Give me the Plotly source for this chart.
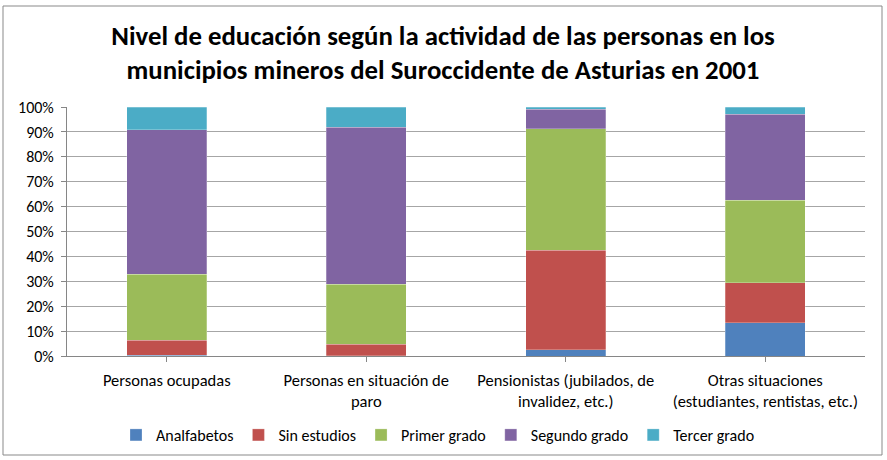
import plotly.graph_objects as go

categories = [
    "Personas ocupadas",
    "Personas en situación de<br>paro",
    "Pensionistas (jubilados, de<br>invalidez, etc.)",
    "Otras situaciones<br>(estudiantes, rentistas, etc.)",
]
series_names = ["Analfabetos", "Sin estudios", "Primer grado", "Segundo grado", "Tercer grado"]
analfabetos = [0.3, 0.2, 2.5, 13.4]
sin_estudios = [6.1, 4.5, 39.9, 16.1]
primer_grado = [26.4, 24.1, 48.8, 33.1]
segundo_grado = [58.1, 63.0, 7.9, 34.5]
tercer_grado = [9.1, 8.2, 0.9, 2.9]
colors = ["#4F81BD", "#C0504D", "#9BBB59", "#8064A2", "#4BACC6"]
values = [analfabetos, sin_estudios, primer_grado, segundo_grado, tercer_grado]

FONT = "Carlito, 'Liberation Sans Narrow', 'Open Sans', sans-serif"

fig = go.Figure()
for name, vals, col in zip(series_names, values, colors):
    fig.add_trace(go.Bar(
        x=categories, y=vals, name=name,
        marker=dict(color=col, line=dict(color="rgba(255,255,255,0.5)", width=0.5)),
    ))

W, H = 887, 460
L, R, T, B = 67, 887 - 865, 107, 460 - 356
pw = W - L - R
ph = H - T - B

def px_x(x):
    return (x - L) / pw

def px_y(y):
    return (356 - y) / ph

fig.update_layout(
    width=W, height=H,
    barmode="stack", barnorm="percent", bargap=0.6,
    margin=dict(l=L, r=R, t=T, b=B, autoexpand=False),
    paper_bgcolor="white", plot_bgcolor="white",
    font=dict(family=FONT, size=16, color="#000000"),
    title=dict(
        text="<b>Nivel de educación según la actividad de las personas en los<br>municipios mineros del Suroccidente de Asturias en 2001</b>",
        x=443 / W, xref="container", xanchor="center",
        y=1 - 44.5 / H, yref="container", yanchor="middle",
        font=dict(family=FONT, size=26.8, color="#000000"),
    ),
    legend=dict(
        orientation="h", x=px_x(438), xref="paper", xanchor="center",
        y=px_y(435), yref="paper", yanchor="middle",
        font=dict(family=FONT, size=16),
        traceorder="normal",
    ),
    showlegend=True,
    xaxis=dict(
        showline=True, linecolor="#868686", linewidth=1,
        ticks="outside", ticklen=5, tickcolor="#868686",
        showgrid=False, tickfont=dict(family=FONT, size=16.5),
        tickangle=0, automargin=False, ticklabelstandoff=4,
    ),
    yaxis=dict(
        range=[0, 100], dtick=10, ticksuffix="%",
        showline=True, linecolor="#868686", linewidth=1,
        ticks="outside", ticklen=5, tickcolor="#868686",
        showgrid=True, gridcolor="#A6A6A6", gridwidth=1,
        tickfont=dict(family=FONT, size=16),
        zeroline=False, automargin=False, ticklabelstandoff=4,
    ),
    shapes=[dict(
        type="rect", xref="paper", yref="paper",
        x0=px_x(3), x1=px_x(882),
        y0=px_y(455), y1=px_y(6),
        line=dict(color="#898989", width=1), fillcolor="rgba(0,0,0,0)",
        layer="below",
    )],
)

fig.write_html("out.html", config={"displayModeBar": False},
               post_script="document.body.style.margin='0';")
